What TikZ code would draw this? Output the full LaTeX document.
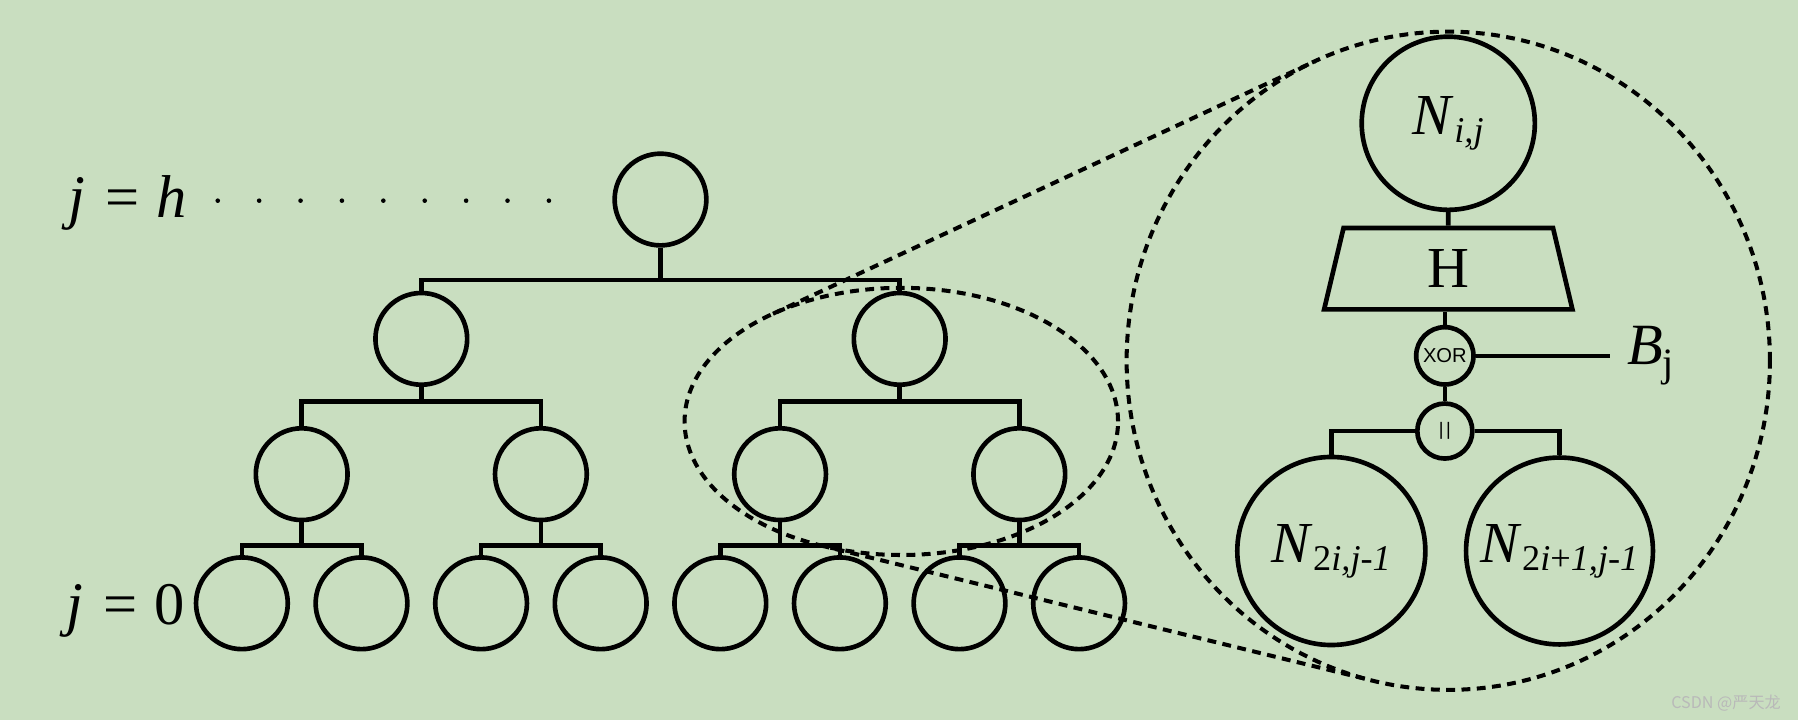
\documentclass[tikz,border=0pt]{standalone}
\usepackage{fontspec}
\setmainfont{Liberation Serif}
\newfontfamily\sansf{Liberation Sans}
\newfontfamily\cjkf{Noto Sans CJK SC}
\usetikzlibrary{positioning, shapes.geometric}
\definecolor{bgc}{RGB}{201,222,192}
\newcommand{\nsub}[1]{\raisebox{-2pt}{\fontsize{9}{9}\selectfont #1}}
\tikzset{
    vtx/.style={circle, draw, minimum size=0.8cm, inner sep=0pt}, % nodi dell'albero
    bignode/.style={circle, draw, minimum size=1.63cm, inner sep=0pt, font=\fontsize{14.4}{16}\selectfont},
    op/.style={circle, draw, minimum size=0.5cm, inner sep=0pt, font=\sansf\fontsize{5}{6}\selectfont},
    zoomline/.style={dash pattern=on 2.2pt off 1.6pt, line width=1pt},
    lvl/.style={anchor=base west, inner sep=0pt, font=\fontsize{15}{17}\selectfont},
}

\begin{document}
\begin{tikzpicture}[line width=1.15pt, on grid]
    \useasboundingbox (0,0) rectangle (15.68,6.28);
    \fill[bgc] (0,0) rectangle (15.68,6.28);

    % Albero
    \node[vtx] (n1) at (5.76,4.54) {};
    \foreach \p/\dy/\dx/\st in {1/1.215cm/2.086cm/0.28, 2/1.18cm/1.043cm/0.125, 3/1.18cm/1.043cm/0.125,
        4/1.126cm/0.5215cm/0.2, 5/1.126cm/0.5215cm/0.2, 6/1.126cm/0.5215cm/0.2, 7/1.126cm/0.5215cm/0.2}{
        \pgfmathtruncatemacro\lc{2*\p}
        \pgfmathtruncatemacro\rc{2*\p+1}
        \node[vtx] (n\lc) [below left=\dy and \dx of n\p] {};
        \node[vtx] (n\rc) [below right=\dy and \dx of n\p] {};
        \draw (n\p.south) -- ++(0,-\st) -| (n\lc.north);
        \draw (n\p.south) -- ++(0,-\st) -| (n\rc.north);
    }

    % Livelli
    \node[lvl] (lh) at (0.58,4.38) {\textit{j}\hspace{5pt}=\hspace{4.2pt}\textit{h}};
    \node[lvl] (l0) at (0.56,0.83) {\textit{j}\hspace{5pt}=\hspace{4.2pt}0};
    \foreach \i in {0,...,8}
        \fill (1.899+0.361*\i,4.53) circle (0.02);

    % Ingrandimento
    \node[ellipse, draw, zoomline, minimum width=3.78cm, minimum height=2.33cm, inner sep=0pt, outer sep=0pt] (zs) at (7.86,2.605) {};
    \node[ellipse, draw, zoomline, minimum width=5.61cm, minimum height=5.74cm, inner sep=0pt, outer sep=0pt] (zb) at (12.63,3.134) {};
    \draw[zoomline] (zs.140.85) -- (zb.114);
    \draw[zoomline] (zs.237.1) -- (zb.256.8);

    % Nodo N_{i,j}
    \node[bignode, minimum size=1.51cm] (nij) at (12.63,5.205) {\textit{N}\nsub{\textit{i,j}}};
    \node[trapezium, draw, trapezium angle=63, trapezium stretches body, minimum width=2.165cm, minimum height=0.709cm,
        inner sep=0pt, font=\fontsize{14.4}{16}\selectfont] (hf) [below=1.268cm of nij] {H};
    \node[op] (xor) at (12.60,3.177) {XOR};
    \node[op, minimum size=0.48cm, font=\sansf\fontsize{4.5}{5}\selectfont] (cat) [below=0.656cm of xor] {|\hspace{0.6pt}|};
    \node[bignode, minimum size=1.64cm] (nl) at (11.61,1.475) {\textit{N}\nsub{2\textit{i,j-1}}};
    \node[bignode] (nr) at (13.60,1.475) {\textit{N}\nsub{2\textit{i}+\textit{1,j-1}}};
    \coordinate (bend) at (14.04,3.177);
    \node[anchor=west, inner sep=0pt, xshift=1.3mm, font=\fontsize{14.5}{16}\selectfont] (bj) at (bend)
        {\textit{B}\raisebox{-3pt}{\fontsize{10}{10}\selectfont j}};

    \draw (nij) -- (hf);
    \draw (xor.north) -- (xor.north |- hf.south);
    \draw (xor) -- (cat);
    \draw (xor) -- (bend);
    \draw (cat) -| (nl);
    \draw (cat) -| (nr);

    \node[anchor=east, inner sep=0pt, text=white!45!gray, font=\cjkf\fontsize{4}{5}\selectfont] (wm) at (15.55,0.147) {CSDN @严天龙};
\end{tikzpicture}
\end{document}
